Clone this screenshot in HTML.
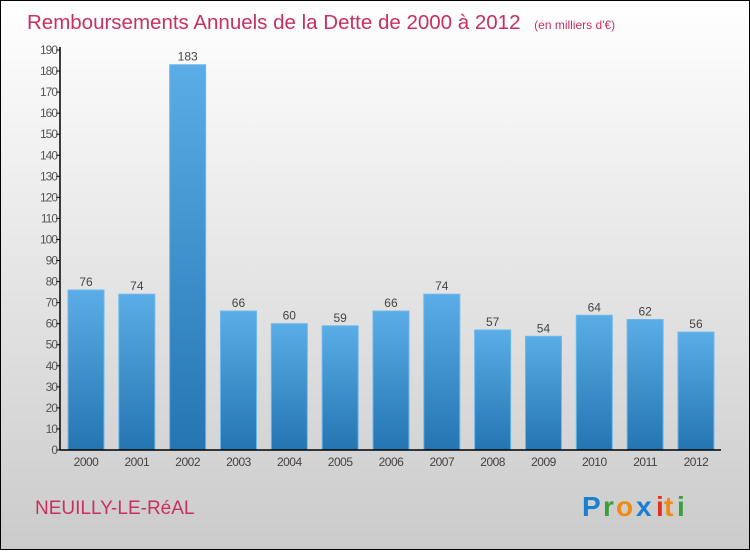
<!DOCTYPE html>
<html><head><meta charset="utf-8"><style>
html,body{margin:0;padding:0}
body{width:750px;height:550px;overflow:hidden;font-family:"Liberation Sans",sans-serif}
</style></head><body>
<svg width="750" height="550" xmlns="http://www.w3.org/2000/svg">
<defs>
<linearGradient id="bg" x1="0" y1="0" x2="0" y2="1"><stop offset="0" stop-color="#ffffff"/><stop offset="1" stop-color="#cbcbcb"/></linearGradient>
<linearGradient id="bar" x1="0" y1="0" x2="0" y2="1"><stop offset="0" stop-color="#5aade6"/><stop offset="1" stop-color="#2475b2"/></linearGradient>
</defs>
<rect x="0.5" y="0.5" width="749" height="549" fill="url(#bg)" stroke="#000"/>
<text x="27" y="29" font-size="20.5" fill="#c8305f">Remboursements Annuels de la Dette de 2000 à 2012 <tspan font-size="12" dx="8">(en milliers d'€)</tspan></text>
<g id="yaxis"></g>
<g id="bars"></g>
<g id="xaxis"></g>
<text x="35" y="514" font-size="19" fill="#c8305f">NEUILLY-LE-RéAL</text>
<g font-size="28" font-weight="bold">
<text x="582" y="516" fill="#1a7fd0">P</text><text x="603" y="516" fill="#3aa03a">r</text><text x="616" y="516" fill="#f08a10">o</text><text x="636" y="516" fill="#1a7fd0">x</text><text x="656" y="516" fill="#e03020">i</text><text x="664" y="516" fill="#f08a10">t</text><text x="677" y="516" fill="#3aa03a">i</text>
</g>
</svg>
<script>
const categories=["2000","2001","2002","2003","2004","2005","2006","2007","2008","2009","2010","2011","2012"];
const values=[76,74,183,66,60,59,66,74,57,54,64,62,56];
const yTicks=[0,10,20,30,40,50,60,70,80,90,100,110,120,130,140,150,160,170,180,190];
const NS="http://www.w3.org/2000/svg";
const y0=450,yTop=50,yMax=190,x0=60,step=50.83,bw=36,firstX=68;
const ys=v=>y0-(v/yMax)*(y0-yTop);
const xs=i=>firstX+i*step;
function mk(tag,attrs,parent){const e=document.createElementNS(NS,tag);for(const k in attrs)e.setAttribute(k,attrs[k]);parent.appendChild(e);return e;}
const ya=document.getElementById('yaxis'),ba=document.getElementById('bars'),xa=document.getElementById('xaxis');
mk('line',{x1:x0,y1:yTop-3,x2:x0,y2:y0,stroke:'#000','stroke-width':1.5},ya);
mk('line',{x1:x0,y1:y0,x2:721,y2:y0,stroke:'#000','stroke-width':1.5},xa);
yTicks.forEach(t=>{
  const l=mk('line',{x1:x0-4,y1:ys(t),x2:x0,y2:ys(t),stroke:'#000'},ya);
  
  
  const tx=mk('text',{x:x0-3,y:ys(t)+4,'text-anchor':'end','font-size':12,fill:'#555','letter-spacing':'-1'},ya);
  tx.textContent=t;
  
  
});
values.forEach((v,i)=>{
  const r=mk('rect',{x:xs(i),y:ys(v),width:bw,height:y0-ys(v),fill:'url(#bar)',stroke:'#6cb8ec','stroke-width':1},ba);
  
  
  const lb=mk('text',{x:xs(i)+bw/2,y:ys(v)-4,'text-anchor':'middle','font-size':12,fill:'#444'},ba);
  lb.textContent=v;
  
  
  const c=mk('text',{x:xs(i)+bw/2,y:466,'text-anchor':'middle','font-size':12,fill:'#444','letter-spacing':'-0.5'},xa);
  c.textContent=categories[i];
  
  
});
</script>
</body></html>
